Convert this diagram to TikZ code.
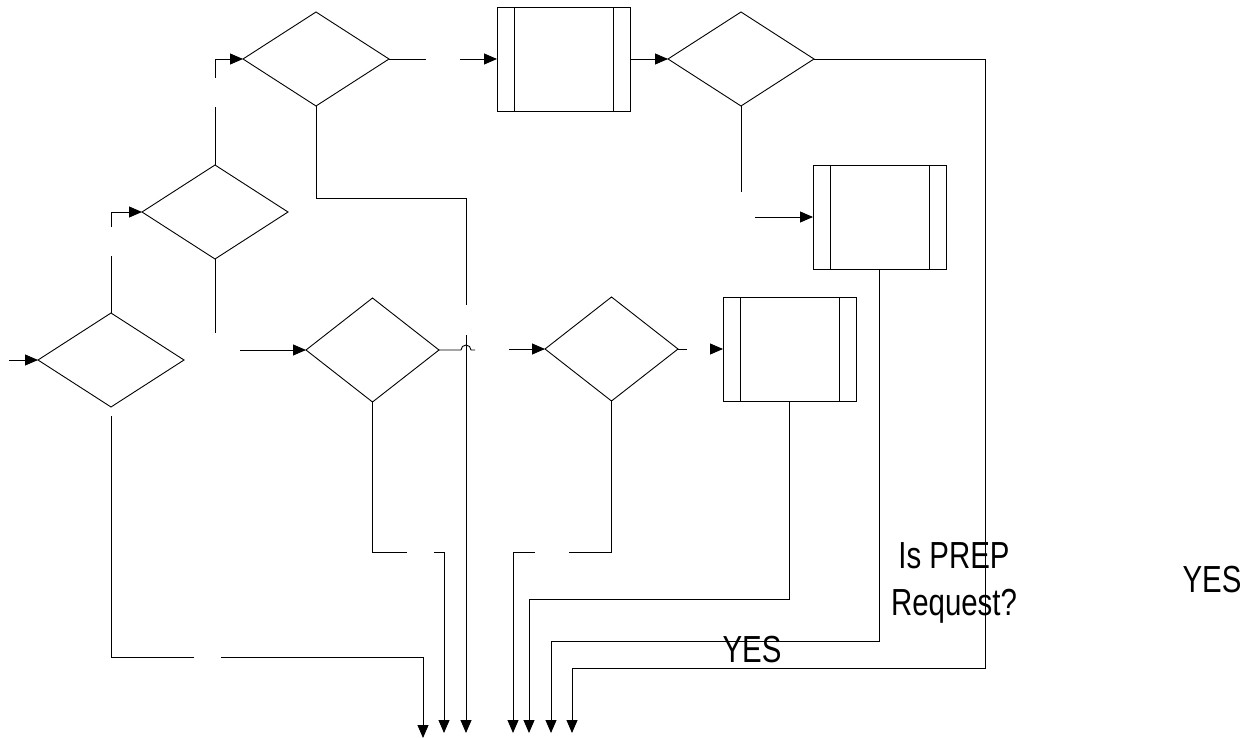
\documentclass[tikz,border=0pt]{standalone}
\usepackage{fontspec}
\newfontfamily\narrowsans[FakeStretch=0.78]{Liberation Sans}
\usetikzlibrary{shapes.geometric,arrows.meta}
\begin{document}
\begin{tikzpicture}[x=1pt,y=-1pt,line width=0.9pt,
  every node/.style={inner sep=0pt,outer sep=0pt},
  decision/.style={diamond,draw,minimum width=146pt,minimum height=94pt},
  process/.style={rectangle,draw,minimum width=133pt,minimum height=104pt,
    path picture={\draw ([xshift=17pt]path picture bounding box.north west) -- ([xshift=17pt]path picture bounding box.south west)
      ([xshift=-17pt]path picture bounding box.north east) -- ([xshift=-17pt]path picture bounding box.south east);}},
  flow/.style={-{Triangle[length=13pt,width=11pt]}},
  notetext/.style={font=\narrowsans\fontsize{37.7}{47}\selectfont,align=center}]
\useasboundingbox (0,0) rectangle (1244,738);
\node[decision] (q1) at (111,360) {};
\node[decision] (q2) at (215,212) {};
\node[decision] (q3) at (316,59) {};
\node[decision,minimum width=133pt,minimum height=104pt] (q4) at (372.5,350) {};
\node[decision,minimum width=133pt,minimum height=104pt] (q5) at (611.5,349) {};
\node[decision] (q6) at (741,59) {};
\node[process] (s1) at (563.5,59) {};
\node[process] (s2) at (879.5,217) {};
\node[process] (s3) at (789.5,349) {};
% free ends
\coordinate (in1) at (9,360);
\coordinate (in4) at (240,350);
\coordinate (in5) at (509,349);
\coordinate (in2) at (755,217);
\coordinate (u1) at (111,256);
\coordinate (u2) at (111,227);
\coordinate (u3) at (215,107);
\coordinate (u4) at (215,78);
\coordinate (u5) at (215,333);
\coordinate (u6) at (741,192);
\coordinate (r1) at (426,59);
\coordinate (r2) at (460,59);
\coordinate (r3) at (687,349);
\coordinate (r4) at (710,349);
\coordinate (v1) at (466,305);
\coordinate (v2) at (466,335);
\coordinate (h1) at (475,350);
\coordinate (w1) at (407,552);
\coordinate (w2) at (434,552);
\coordinate (w3) at (569,552);
\coordinate (w4) at (535,552);
\coordinate (t1) at (111,416);
\coordinate (t2) at (194,657);
\coordinate (t3) at (221,657);
\coordinate (o1) at (423,738);
\coordinate (o2) at (444,733);
\coordinate (o3) at (466,733);
\coordinate (o4) at (513,733);
\coordinate (o5) at (529,733);
\coordinate (o6) at (551,733);
\coordinate (o7) at (572,733);
% connectors
\draw[flow] (in1) -- (q1.west);
\draw (q1.north) -- (u1);
\draw[flow] (u2) |- (q2.west);
\draw (q2.north) -- (u3);
\draw[flow] (u4) |- (q3.west);
\draw (q2.south) -- (u5);
\draw (q3.east) -- (r1);
\draw[flow] (r2) -- (s1.west);
\draw[flow] (s1.east) -- (q6.west);
\draw (q3.south) -- ++(0,92) -| (v1);
\draw[flow] (v2) -- (o3);
\draw[flow] (in4) -- (q4.west);
\draw (q4.east) -- (461,350) arc[start angle=180,end angle=360,radius=5] -- (h1);
\draw (q4.south) |- (w1);
\draw[flow] (w2) -| (o2);
\draw[flow] (in5) -- (q5.west);
\draw (q5.east) -- (r3);
\draw[flow] (r4) -- (s3.west);
\draw (q5.south) |- (w3);
\draw[flow] (w4) -| (o4);
\draw[flow] (s3.south) -- ++(0,198) -| (o5);
\draw[flow] (s2.south) -- ++(0,372) -| (o6);
\draw[flow] (q6.east) -- ++(171,0) -- ++(0,609) -| (o7);
\draw (q6.south) -- (u6);
\draw[flow] (in2) -- (s2.west);
\draw (t1) |- (t2);
\draw[flow] (t3) -| (o1);
% texts
\node[notetext,anchor=north] (prep) at (954,543) {Is PREP\\Request?};
\node[notetext,anchor=base] (yes1) at (752,662) {YES};
\node[notetext,anchor=base] (yes2) at (1212,592) {YES};
\end{tikzpicture}
\end{document}
